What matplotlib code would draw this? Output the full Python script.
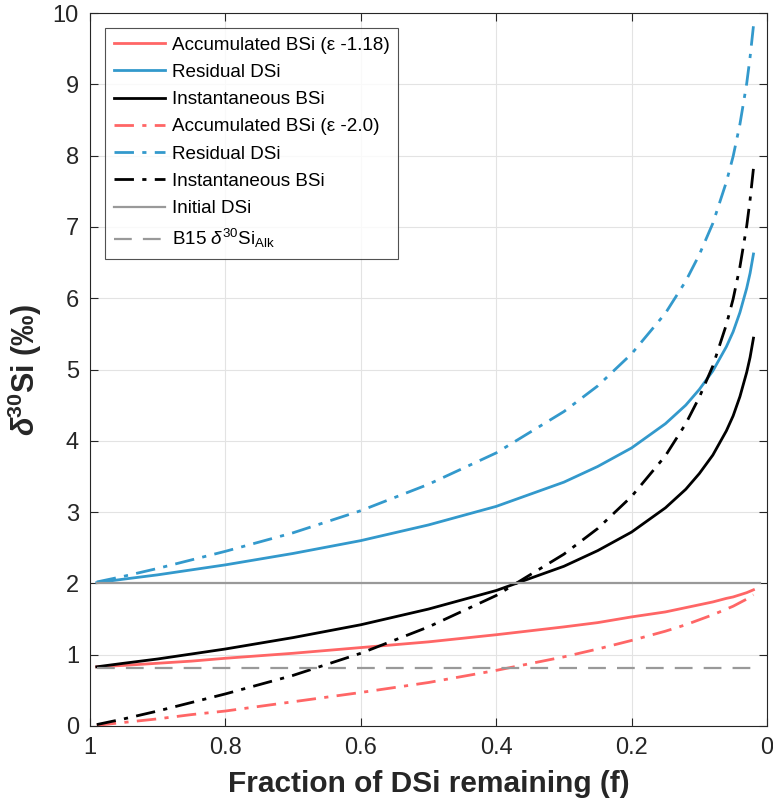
import matplotlib
matplotlib.use("Agg")
import matplotlib.pyplot as plt

plt.rcParams['font.family'] = ['Liberation Sans', 'DejaVu Sans']
plt.rcParams['mathtext.fontset'] = 'custom'
plt.rcParams['mathtext.rm'] = 'Liberation Sans'
plt.rcParams['mathtext.it'] = 'Liberation Sans:italic'
plt.rcParams['mathtext.bf'] = 'Liberation Sans:bold'
plt.rcParams['mathtext.bfit'] = 'Liberation Sans:italic:bold'

# Fraction of DSi remaining (f)
f = [0.99, 0.95, 0.9, 0.85, 0.8, 0.7, 0.6, 0.5, 0.4, 0.3, 0.25, 0.2, 0.15,
     0.12, 0.1, 0.08, 0.06, 0.05, 0.04, 0.03, 0.025, 0.02]

# epsilon -1.18
accum_118 = [0.83, 0.85, 0.88, 0.91, 0.95, 1.02, 1.10, 1.18, 1.28, 1.39, 1.45, 1.53, 1.60,
             1.66, 1.70, 1.74, 1.79, 1.81, 1.84, 1.87, 1.89, 1.91]
resid_118 = [2.01, 2.06, 2.12, 2.19, 2.26, 2.42, 2.60, 2.82, 3.08, 3.42, 3.64, 3.90, 4.24,
             4.50, 4.72, 4.98, 5.32, 5.53, 5.80, 6.14, 6.35, 6.62]
inst_118 = [0.83, 0.88, 0.94, 1.01, 1.08, 1.24, 1.42, 1.64, 1.90, 2.24, 2.46, 2.72, 3.06,
            3.32, 3.54, 3.80, 4.14, 4.35, 4.62, 4.96, 5.17, 5.44]

# epsilon -2.0
accum_20 = [0.01, 0.05, 0.10, 0.16, 0.21, 0.34, 0.47, 0.61, 0.78, 0.97, 1.08, 1.20, 1.33,
            1.42, 1.49, 1.56, 1.64, 1.68, 1.73, 1.78, 1.81, 1.84]
resid_20 = [2.02, 2.10, 2.21, 2.33, 2.45, 2.71, 3.02, 3.39, 3.83, 4.41, 4.77, 5.22, 5.79,
            6.24, 6.61, 7.05, 7.63, 7.99, 8.44, 9.01, 9.38, 9.82]
inst_20 = [0.02, 0.10, 0.21, 0.33, 0.45, 0.71, 1.02, 1.39, 1.83, 2.41, 2.77, 3.22, 3.79,
           4.24, 4.61, 5.05, 5.63, 5.99, 6.44, 7.01, 7.38, 7.82]

ref_f = [0.99, 0.01]
initial_dsi = [2.0, 2.0]
b15_alk = [0.82, 0.82]

labels = ['Accumulated BSi (ε -1.18)', 'Residual DSi', 'Instantaneous BSi',
          'Accumulated BSi (ε -2.0)', 'Residual DSi', 'Instantaneous BSi',
          'Initial DSi', r'B15 $\delta^{30}$Si$_{\mathrm{Alk}}$']

red = '#FF6666'
blue = '#3399CC'
black = '#000000'
gray = '#999999'

fig = plt.figure(figsize=(7.73, 8.02), dpi=100)
ax = fig.add_axes([90/773, 1 - 726/802, (767-90)/773, (726-13)/802])

dashdot = (0, (7, 3, 1.5, 3))
ax.plot(f, accum_118, color=red, lw=2, label=labels[0])
ax.plot(f, resid_118, color=blue, lw=2, label=labels[1])
ax.plot(f, inst_118, color=black, lw=2, label=labels[2])
ax.plot(f, accum_20, color=red, lw=2, ls=dashdot, label=labels[3])
ax.plot(f, resid_20, color=blue, lw=2, ls=dashdot, label=labels[4])
ax.plot(f, inst_20, color=black, lw=2, ls=dashdot, label=labels[5])
ax.plot(ref_f, initial_dsi, color=gray, lw=1.6, label=labels[6])
ax.plot(ref_f, b15_alk, color=gray, lw=1.6, ls=(0, (8, 5)), label=labels[7])

ax.set_xlim(1, 0)
ax.set_ylim(0, 10)
ax.set_xticks([1, 0.8, 0.6, 0.4, 0.2, 0])
ax.set_xticklabels(['1', '0.8', '0.6', '0.4', '0.2', '0'])
ax.set_yticks(range(0, 11))
ax.grid(True, color='#E3E3E3', lw=0.8)
ax.set_axisbelow(True)
ax.tick_params(direction='in', top=True, right=True, length=6, width=0.8,
               labelsize=17, colors='#262626', pad=8)
for s in ax.spines.values():
    s.set_color('#262626')
    s.set_linewidth(0.8)

ax.set_xlabel('Fraction of DSi remaining (f)', fontsize=21.5, fontweight='bold', color='#262626', labelpad=8)
ax.set_ylabel(r'$\mathbfit{\delta}^{\mathbf{30}}$Si (‰)', fontsize=22, fontweight='bold',
              color='#262626', labelpad=6)

leg = ax.legend(loc='upper left', bbox_to_anchor=(15/677, 1 - 15/713), fontsize=13.6,
                frameon=True, fancybox=False, edgecolor='#262626', handlelength=2.75,
                borderpad=0.45, labelspacing=0.53, handletextpad=0.35, borderaxespad=0)
leg.get_frame().set_linewidth(0.8)

fig.savefig('out.png', dpi=100)
